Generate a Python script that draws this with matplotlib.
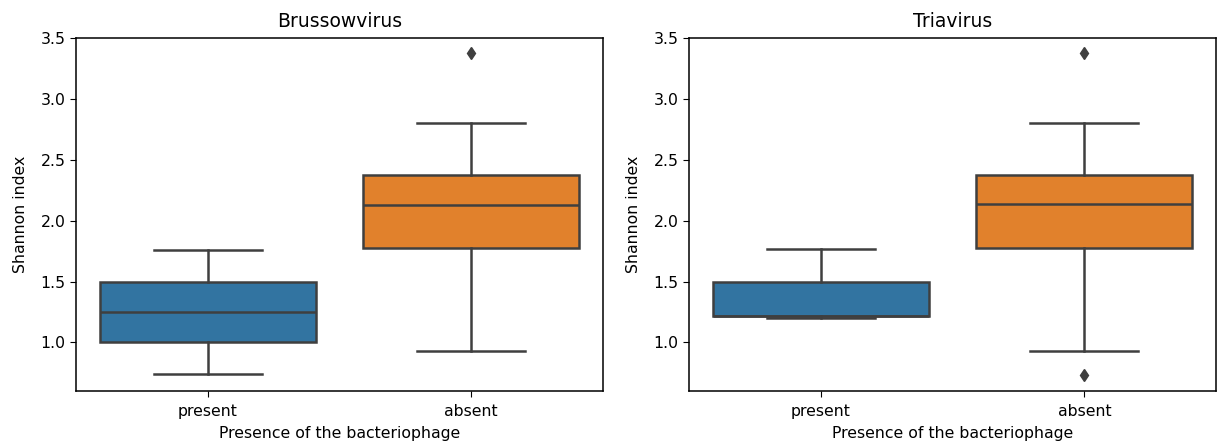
import matplotlib
matplotlib.use("Agg")
import matplotlib.pyplot as plt

# box statistics (Shannon index)
categories = ["present", "absent"]
titles = ["Brussowvirus", "Triavirus"]

# per panel: [present, absent]
whislo = [[0.74, 0.93], [1.20, 0.93]]
q1 = [[1.00, 1.78], [1.22, 1.78]]
med = [[1.25, 2.13], [1.22, 2.14]]
q3 = [[1.50, 2.38], [1.50, 2.38]]
whishi = [[1.76, 2.80], [1.77, 2.80]]
fliers = [[[], [3.38]], [[], [3.38, 0.73]]]

box_colors = ["#3274a1", "#e1812c"]
line_color = "#3f3f3f"

plt.rcParams["font.size"] = 11.3
plt.rcParams["axes.linewidth"] = 1.1
plt.rcParams["xtick.major.size"] = 4
plt.rcParams["ytick.major.size"] = 4

fig = plt.figure(figsize=(12.24, 4.44), dpi=100)
axes = [fig.add_axes([0.062, 0.119, 0.4306, 0.795]),
        fig.add_axes([0.563, 0.119, 0.4306, 0.795])]

lw = 1.8
for p, ax in enumerate(axes):
    stats = []
    for i, cat in enumerate(categories):
        stats.append(dict(label=cat, med=med[p][i], q1=q1[p][i], q3=q3[p][i],
                          whislo=whislo[p][i], whishi=whishi[p][i],
                          fliers=fliers[p][i]))
    bp = ax.bxp(stats, positions=[0, 1], widths=0.82, patch_artist=True,
                boxprops=dict(edgecolor=line_color, linewidth=lw),
                medianprops=dict(color=line_color, linewidth=lw),
                whiskerprops=dict(color=line_color, linewidth=lw),
                capprops=dict(color=line_color, linewidth=lw),
                flierprops=dict(marker="d", markerfacecolor=line_color,
                                markeredgecolor=line_color, markersize=6))
    for patch, c in zip(bp["boxes"], box_colors):
        patch.set_facecolor(c)
    ax.set_xlim(-0.5, 1.5)
    ax.set_ylim(0.6, 3.5)
    ax.set_yticks([1.0, 1.5, 2.0, 2.5, 3.0, 3.5])
    ax.set_xticks([0, 1])
    ax.set_xticklabels(categories)
    ax.tick_params(axis="x", pad=5)
    ax.set_title(titles[p], fontsize=13.5, pad=8)
    ax.set_xlabel("Presence of the bacteriophage", labelpad=5)
    ax.set_ylabel("Shannon index", labelpad=9)

fig.savefig("out.png", dpi=100)
